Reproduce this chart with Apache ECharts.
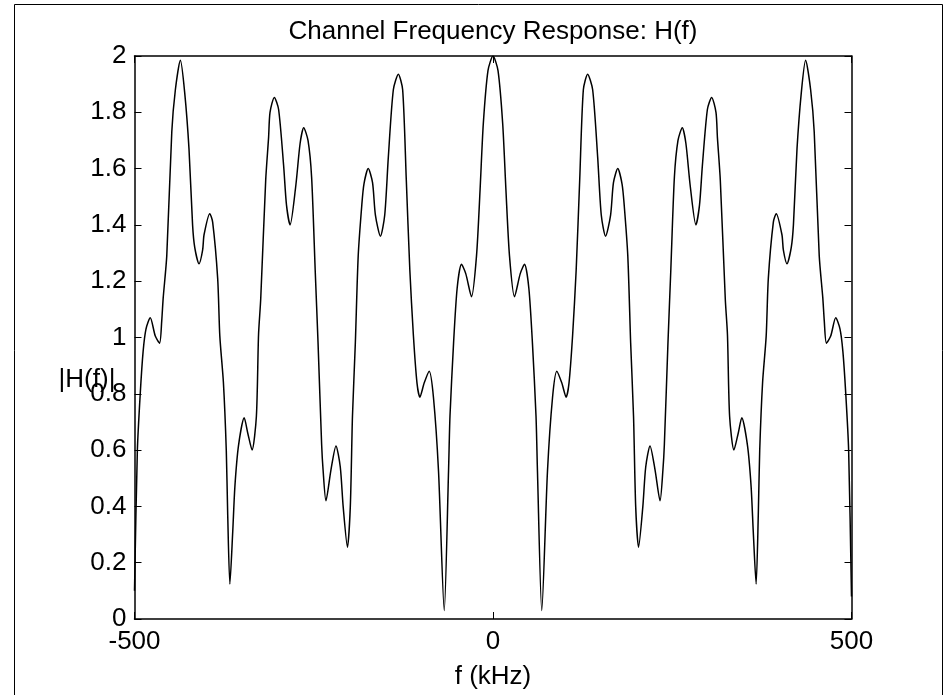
<!DOCTYPE html>
<html>
<head>
<meta charset="utf-8">
<title>Channel Frequency Response</title>
<script src="https://cdn.jsdelivr.net/npm/echarts@6/dist/echarts.min.js"></script>
<style>
  html, body { margin: 0; padding: 0; background: #fff; }
  #chart { width: 951px; height: 695px; }
</style>
</head>
<body>
<div id="chart"></div>
<script>
// Frequency samples (kHz) and the channel magnitude |H(f)| at each one.
const freqKHz = [
  -500, -496, -492, -488, -484, -478, -471, -465, -462, -460,
  -455, -448, -443, -436, -430, -424, -419, -416, -410, -405,
  -403, -395, -391, -384, -381, -376, -372, -370, -367, -363,
  -360, -355, -347, -342, -336, -330, -327, -324, -317, -313,
  -311, -305, -299, -292, -288, -283, -275, -269, -264, -258,
  -253, -248, -244, -239, -237, -233, -226, -219, -213, -209,
  -203, -199, -196, -192, -188, -183, -180, -174, -168, -164,
  -157, -151, -146, -139, -132, -126, -121, -116, -111, -106,
  -102, -96, -89, -83, -76, -68, -62, -60, -55, -50,
  -44, -38, -30, -23, -18, -13.5, -7, 0,
  7, 13.5, 18, 23, 30, 38, 44, 50, 55, 60,
  62, 68, 76, 83, 89, 96, 102, 106, 111, 116,
  121, 126, 132, 139, 146, 151, 157, 164, 168, 174,
  180, 183, 188, 192, 196, 199, 203, 209, 213, 219,
  226, 233, 237, 239, 244, 248, 253, 258, 264, 269,
  275, 283, 288, 292, 299, 305, 311, 313, 317, 324,
  327, 330, 336, 342, 347, 355, 360, 363, 367, 370,
  372, 376, 381, 384, 391, 395, 403, 405, 410, 416,
  419, 424, 430, 436, 443, 448, 455, 460, 462, 465,
  471, 478, 484, 488, 492, 496, 500
];

const magnitude = [
  0.10, 0.60, 0.80, 0.95, 1.03, 1.07, 1.005, 0.98, 1.06, 1.14,
  1.29, 1.73, 1.88, 1.985, 1.87, 1.67, 1.40, 1.32, 1.262, 1.31,
  1.365, 1.44, 1.41, 1.21, 1.005, 0.84, 0.60, 0.37, 0.124, 0.31,
  0.47, 0.615, 0.715, 0.66, 0.60, 0.72, 1.01, 1.135, 1.56, 1.71,
  1.80, 1.853, 1.81, 1.61, 1.47, 1.40, 1.54, 1.69, 1.745, 1.70,
  1.57, 1.24, 0.98, 0.62, 0.53, 0.42, 0.53, 0.615, 0.54, 0.40,
  0.255, 0.40, 0.72, 0.98, 1.29, 1.47, 1.545, 1.60, 1.55, 1.435,
  1.36, 1.435, 1.64, 1.88, 1.935, 1.88, 1.565, 1.24, 1.006, 0.838,
  0.788, 0.838, 0.88, 0.786, 0.526, 0.03, 0.526, 0.72, 0.98, 1.175,
  1.26, 1.227, 1.145, 1.29, 1.526, 1.76, 1.948, 2.0,
  1.948, 1.76, 1.526, 1.29, 1.145, 1.227, 1.26, 1.175, 0.98, 0.72,
  0.526, 0.03, 0.526, 0.786, 0.88, 0.838, 0.788, 0.838, 1.006, 1.24,
  1.565, 1.88, 1.935, 1.88, 1.64, 1.435, 1.36, 1.435, 1.55, 1.60,
  1.545, 1.47, 1.29, 0.98, 0.72, 0.40, 0.255, 0.40, 0.54, 0.615,
  0.53, 0.42, 0.53, 0.62, 0.98, 1.24, 1.57, 1.70, 1.745, 1.69,
  1.54, 1.40, 1.47, 1.61, 1.81, 1.853, 1.80, 1.71, 1.56, 1.135,
  1.01, 0.72, 0.60, 0.66, 0.715, 0.615, 0.47, 0.31, 0.124, 0.37,
  0.60, 0.84, 1.005, 1.21, 1.41, 1.44, 1.365, 1.31, 1.262, 1.32,
  1.40, 1.67, 1.87, 1.985, 1.88, 1.73, 1.29, 1.14, 1.06, 0.98,
  1.005, 1.07, 1.03, 0.95, 0.80, 0.60, 0.08
];

// Axis tick values
const xTicks = [-500, 0, 500];
const yTicks = [0, 0.2, 0.4, 0.6, 0.8, 1, 1.2, 1.4, 1.6, 1.8, 2];

const FONT = '"Liberation Sans", Arial, sans-serif';
const FS = 26;

const chart = echarts.init(document.getElementById('chart'), null, { renderer: 'canvas' });

const points = freqKHz.map((f, i) => [f, magnitude[i]]);

const axisLine = { show: true, onZero: false, lineStyle: { color: '#000', width: 1.5 } };
const axisTick = { show: true, inside: true, length: 7, lineStyle: { color: '#000', width: 1 } };

const xBase = {
  type: 'value',
  min: xTicks[0],
  max: xTicks[xTicks.length - 1],
  interval: xTicks[1] - xTicks[0],
  axisLine: axisLine,
  axisTick: axisTick,
  splitLine: { show: false }
};
const yBase = {
  type: 'value',
  min: yTicks[0],
  max: yTicks[yTicks.length - 1],
  interval: 0.2,
  axisLine: axisLine,
  axisTick: axisTick,
  splitLine: { show: false }
};

chart.setOption({
  animation: false,
  backgroundColor: '#fff',
  grid: { left: 134.5, right: 99.5, top: 56, bottom: 75, containLabel: false },
  xAxis: [
    Object.assign({}, xBase, {
      position: 'bottom',
      axisLabel: { color: '#000', fontSize: FS, fontFamily: FONT, margin: 10 },
      name: 'f (kHz)',
      nameLocation: 'middle',
      nameGap: 45,
      nameTextStyle: { color: '#000', fontSize: FS, fontFamily: FONT }
    }),
    Object.assign({}, xBase, { position: 'top', axisLabel: { show: false } })
  ],
  yAxis: [
    Object.assign({}, yBase, {
      position: 'left',
      axisLabel: { color: '#000', fontSize: FS, fontFamily: FONT, margin: 8 }
    }),
    Object.assign({}, yBase, { position: 'right', axisLabel: { show: false } })
  ],
  series: [{
    type: 'line',
    data: points,
    showSymbol: false,
    symbol: 'none',
    smooth: 0.25,
    lineStyle: { color: '#000', width: 1.5 },
    z: 3
  }],
  graphic: [
    {
      type: 'rect',
      silent: true,
      shape: { x: 14.5, y: 4.5, width: 928, height: 700 },
      style: { fill: 'none', stroke: '#000', lineWidth: 1 }
    },
    {
      type: 'text',
      x: 493, y: 32,
      style: {
        text: 'Channel Frequency Response: H(f)',
        fill: '#000', font: FS + 'px ' + FONT,
        align: 'center', verticalAlign: 'middle'
      }
    },
    {
      type: 'text',
      x: 87, y: 380,
      z: 10,
      style: {
        text: '|H(f)|',
        fill: '#000', font: FS + 'px ' + FONT,
        align: 'center', verticalAlign: 'middle'
      }
    }
  ]
});
</script>
</body>
</html>
